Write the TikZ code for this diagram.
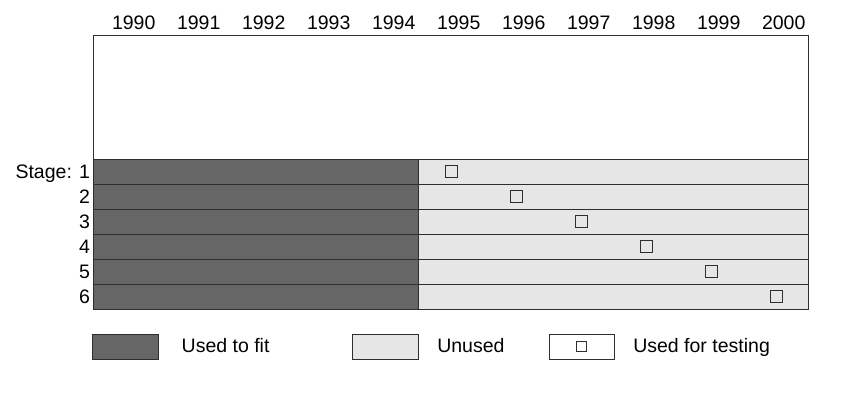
\documentclass[tikz,border=0pt]{standalone}
\usepackage{fontspec}
\setmainfont{Liberation Sans}
\definecolor{fitgray}{HTML}{666666}
\definecolor{unusedgray}{HTML}{E6E6E6}
\definecolor{edgegray}{HTML}{2E2E2E}
\begin{document}
\begin{tikzpicture}[x=1pt,y=-1pt,
  lbl/.style={font=\fontsize{19.5pt}{22pt}\selectfont, inner sep=0pt, outer sep=0pt},
  cell/.style={draw=edgegray, line width=1pt, inner sep=0pt, outer sep=0pt, anchor=north west, minimum height=25pt},
  fitcell/.style={cell, fill=fitgray, minimum width=325.5pt},
  unusedcell/.style={cell, fill=unusedgray, minimum width=390pt},
  testsq/.style={draw=edgegray, line width=1pt, fill=unusedgray, inner sep=0pt, outer sep=0pt, minimum size=12pt},
  legbox/.style={draw=edgegray, line width=1pt, inner sep=0pt, outer sep=0pt, anchor=north west, minimum width=65.5pt, minimum height=24.7pt}
]
\useasboundingbox (0,0) rectangle (841,402);
% frame
\node[draw=edgegray, line width=1pt, fill=white, inner sep=0pt, outer sep=0pt, anchor=north west,
      minimum width=715.5pt, minimum height=274.3pt] (frame) at (93,35) {};
% year labels
\foreach \i [count=\k from 0] in {1990,1991,1992,1993,1994,1995,1996,1997,1998,1999,2000}{
  \node[lbl, anchor=base] (y\i) at ({133.7+65*\k},29) {\i};
}
% rows
\foreach \r in {1,...,6}{
  \node[fitcell] (fit\r) at (93,{159.3+25*(\r-1)}) {};
  \node[unusedcell] (unused\r) at (418.5,{159.3+25*(\r-1)}) {};
  \node[testsq] (test\r) at ({451+65*(\r-1)},{171.7+25*(\r-1)}) {};
}
% stage labels
\node[lbl, anchor=base east] (s1) at (90,178.3) {Stage: 1};
\foreach \r in {2,...,6}{
  \node[lbl, anchor=base east] (s\r) at (90,{178.3+25*(\r-1)}) {\r};
}
% legend
\node[legbox, fill=fitgray] (legfit) at (92.7,334.3) {};
\node[lbl, anchor=base west] (legfittxt) at (181.7,352.3) {Used to fit};
\node[legbox, fill=unusedgray] (legunused) at (352.7,334.3) {};
\node[lbl, anchor=base west] (legunusedtxt) at (437.3,352.3) {Unused};
\node[legbox, fill=white, minimum width=64.7pt] (legtest) at (549.3,334.3) {};
\node[draw=edgegray, line width=1pt, fill=white, inner sep=0pt, outer sep=0pt, minimum size=10pt] (legsq) at (legtest.center) {};
\node[lbl, anchor=base west] (legtesttxt) at (633.3,352.3) {Used for testing};
\end{tikzpicture}
\end{document}
